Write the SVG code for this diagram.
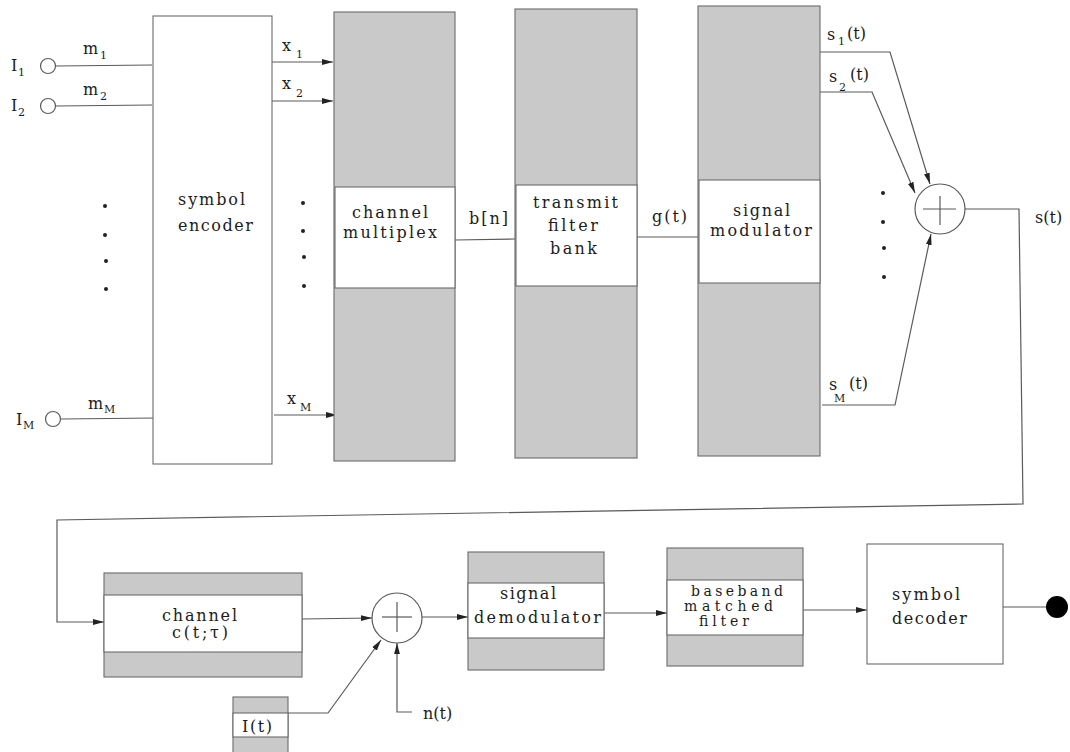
<svg xmlns="http://www.w3.org/2000/svg" width="1070" height="752" viewBox="0 0 1070 752">
<defs>
<marker id="arr" markerUnits="userSpaceOnUse" markerWidth="11" markerHeight="7" refX="11" refY="3.5" orient="auto">
<path d="M0,0.6 L11,3.5 L0,6.4 z" fill="#222"/>
</marker>
<style>
.ln{stroke:#5a5a5a;stroke-width:1.2;fill:none}
.sh{fill:#c9c9c9;stroke:#6a6a6a;stroke-width:1.1}
.wb{fill:#fff;stroke:#6a6a6a;stroke-width:1.1}
.t{font-family:"DejaVu Serif",serif;font-size:16px;fill:#1c1c1c}
.tt{font-family:"DejaVu Serif",serif;font-size:14px;fill:#1c1c1c}
.sub{font-family:"DejaVu Serif",serif;font-size:11px;fill:#1c1c1c}
.dot{fill:#222}
</style>
</defs>
<rect width="1070" height="752" fill="#fff"/>

<g id="connectors">
<line class="ln" x1="56" y1="66" x2="152" y2="65"/>
<line class="ln" x1="56" y1="106" x2="152" y2="105"/>
<line class="ln" x1="61" y1="419" x2="156" y2="418"/>
<line class="ln" x1="271" y1="62" x2="333" y2="62" marker-end="url(#arr)"/>
<line class="ln" x1="271" y1="101" x2="333" y2="101" marker-end="url(#arr)"/>
<line class="ln" x1="274" y1="415" x2="337" y2="415" marker-end="url(#arr)"/>
<line class="ln" x1="455" y1="240" x2="515" y2="239"/>
<line class="ln" x1="637" y1="237" x2="698" y2="237"/>
<polyline class="ln" points="820,52 890,52 930,184" marker-end="url(#arr)"/>
<polyline class="ln" points="820,92 872,92 915,193" marker-end="url(#arr)"/>
<polyline class="ln" points="822,405 895,405 931,234" marker-end="url(#arr)"/>
<polyline class="ln" points="965,209 1019,209 1023,504 57,520 57,622 104,622" marker-end="url(#arr)"/>
<line class="ln" x1="302" y1="619" x2="372" y2="618" marker-end="url(#arr)"/>
<polyline class="ln" points="288,713 328,713 381,640" marker-end="url(#arr)"/>
<polyline class="ln" points="412,712 397,712 397,643" marker-end="url(#arr)"/>
<line class="ln" x1="422" y1="617" x2="468" y2="617" marker-end="url(#arr)"/>
<line class="ln" x1="604" y1="613" x2="667" y2="613" marker-end="url(#arr)"/>
<line class="ln" x1="803" y1="610" x2="867" y2="610" marker-end="url(#arr)"/>
<line class="ln" x1="1003" y1="607" x2="1047" y2="607"/>
</g>

<g id="input-1">
<circle cx="48" cy="66" r="7.5" fill="#fff" stroke="#5a5a5a" stroke-width="1.2"/>
<text class="t" x="11" y="71">I</text><text class="sub" x="18" y="76">1</text>
<text class="t" x="83" y="54">m</text><text class="sub" x="100" y="59">1</text>
</g>
<g id="input-2">
<circle cx="48" cy="106" r="7.5" fill="#fff" stroke="#5a5a5a" stroke-width="1.2"/>
<text class="t" x="11" y="111">I</text><text class="sub" x="18" y="116">2</text>
<text class="t" x="83" y="95">m</text><text class="sub" x="100" y="100">2</text>
</g>
<g id="input-M">
<circle cx="53" cy="419" r="7.5" fill="#fff" stroke="#5a5a5a" stroke-width="1.2"/>
<text class="t" x="16" y="425">I</text><text class="sub" x="23" y="429">M</text>
<text class="t" x="88" y="409">m</text><text class="sub" x="104" y="413">M</text>
</g>
<g id="input-dots">
<circle class="dot" cx="105" cy="206" r="2"/>
<circle class="dot" cx="105" cy="235" r="2"/>
<circle class="dot" cx="106" cy="261" r="2"/>
<circle class="dot" cx="106" cy="289" r="2"/>
</g>

<g id="symbol-encoder">
<rect class="wb" x="153" y="16" width="119" height="448"/>
<text class="t" x="178" y="205" textLength="67" lengthAdjust="spacing">symbol</text>
<text class="t" x="178" y="231" textLength="75" lengthAdjust="spacing">encoder</text>
</g>

<g id="x-labels">
<text class="t" x="282" y="51">x</text><text class="sub" x="296" y="58">1</text>
<text class="t" x="282" y="89">x</text><text class="sub" x="296" y="97">2</text>
<text class="t" x="287" y="404">x</text><text class="sub" x="300" y="411">M</text>
<circle class="dot" cx="303" cy="203" r="2"/>
<circle class="dot" cx="303" cy="231" r="2"/>
<circle class="dot" cx="304" cy="257" r="2"/>
<circle class="dot" cx="304" cy="286" r="2"/>
</g>

<g id="channel-multiplex">
<rect class="sh" x="334" y="12" width="121" height="449"/>
<rect class="wb" x="335" y="187" width="120" height="101"/>
<text class="t" x="352" y="218" textLength="76" lengthAdjust="spacing">channel</text>
<text class="t" x="343" y="238" textLength="94" lengthAdjust="spacing">multiplex</text>
</g>
<text class="t" x="469" y="224" textLength="39" lengthAdjust="spacing">b[n]</text>

<g id="transmit-filter-bank">
<rect class="sh" x="515" y="9" width="122" height="449"/>
<rect class="wb" x="516" y="185" width="121" height="101"/>
<text class="t" x="533" y="208" textLength="85" lengthAdjust="spacing">transmit</text>
<text class="t" x="548" y="231" textLength="50" lengthAdjust="spacing">filter</text>
<text class="t" x="550" y="254" textLength="47" lengthAdjust="spacing">bank</text>
</g>
<text class="t" x="652" y="222" textLength="35" lengthAdjust="spacing">g(t)</text>

<g id="signal-modulator">
<rect class="sh" x="698" y="6" width="122" height="450"/>
<rect class="wb" x="699" y="180" width="121" height="103"/>
<text class="t" x="733" y="216" textLength="57" lengthAdjust="spacing">signal</text>
<text class="t" x="710" y="236" textLength="102" lengthAdjust="spacing">modulator</text>
</g>

<g id="s-labels">
<text class="t" x="827" y="40">s</text><text class="sub" x="838" y="45">1</text><text class="t" x="847" y="39">(t)</text>
<text class="t" x="829" y="82">s</text><text class="sub" x="839" y="91">2</text><text class="t" x="850" y="80">(t)</text>
<text class="t" x="829" y="390">s</text><text class="sub" x="834" y="402">M</text><text class="t" x="849" y="389">(t)</text>
<circle class="dot" cx="883" cy="193" r="2"/>
<circle class="dot" cx="883" cy="222" r="2"/>
<circle class="dot" cx="884" cy="248" r="2"/>
<circle class="dot" cx="884" cy="277" r="2"/>
</g>

<g id="summer-tx">
<circle cx="940" cy="209" r="25" fill="#fff" stroke="#5a5a5a" stroke-width="1.2"/>
<line class="ln" x1="923" y1="209" x2="956" y2="209"/>
<line class="ln" x1="940" y1="196" x2="940" y2="225"/>
</g>
<text class="t" x="1035" y="223">s(t)</text>

<g id="channel">
<rect class="sh" x="104" y="573" width="198" height="104"/>
<rect class="wb" x="104" y="595" width="198" height="57"/>
<text class="t" x="162" y="621" textLength="75" lengthAdjust="spacing">channel</text>
<text class="t" x="172" y="638" textLength="56" lengthAdjust="spacing">c(t;τ)</text>
</g>

<g id="interference">
<rect class="sh" x="233" y="697" width="55" height="70"/>
<rect class="wb" x="233" y="713" width="55" height="24"/>
<text class="t" x="242" y="732" textLength="30" lengthAdjust="spacing">I(t)</text>
</g>

<g id="summer-rx">
<circle cx="397" cy="618" r="25" fill="#fff" stroke="#5a5a5a" stroke-width="1.2"/>
<line class="ln" x1="382" y1="617" x2="412" y2="617"/>
<line class="ln" x1="397" y1="602" x2="397" y2="632"/>
</g>
<text class="t" x="423" y="719">n(t)</text>

<g id="signal-demodulator">
<rect class="sh" x="468" y="552" width="136" height="118"/>
<rect class="wb" x="468" y="583" width="136" height="55"/>
<text class="t" x="500" y="599" textLength="56" lengthAdjust="spacing">signal</text>
<text class="t" x="474" y="623" textLength="127" lengthAdjust="spacing">demodulator</text>
</g>

<g id="baseband-matched-filter">
<rect class="sh" x="667" y="548" width="136" height="118"/>
<rect class="wb" x="667" y="580" width="136" height="55"/>
<text class="tt" x="691" y="596" textLength="92" lengthAdjust="spacing">baseband</text>
<text class="tt" x="684" y="611" textLength="89" lengthAdjust="spacing">matched</text>
<text class="tt" x="699" y="626" textLength="50" lengthAdjust="spacing">filter</text>
</g>

<g id="symbol-decoder">
<rect class="wb" x="867" y="544" width="136" height="120"/>
<text class="t" x="892" y="600" textLength="68" lengthAdjust="spacing">symbol</text>
<text class="t" x="892" y="624" textLength="75" lengthAdjust="spacing">decoder</text>
</g>

<g id="output">
<circle cx="1057" cy="607" r="11" fill="#000"/>
</g>
</svg>
